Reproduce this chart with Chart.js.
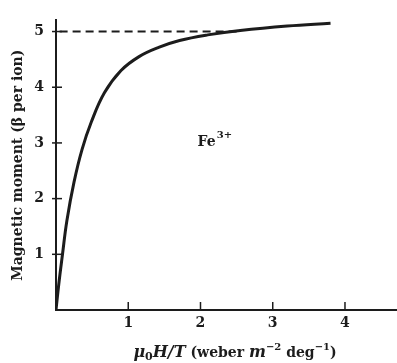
<!DOCTYPE html>
<html>
<head>
<meta charset="utf-8">
<script src="https://cdn.jsdelivr.net/npm/chart.js@4/dist/chart.umd.min.js"></script>
<style>
  html, body { margin: 0; padding: 0; background: #fff; }
  canvas { display: block; }
</style>
</head>
<body>
<canvas id="chart" width="397" height="363"></canvas>
<script>
// values
const fieldX = [0, 0.04, 0.09, 0.15, 0.25, 0.36, 0.49, 0.67, 0.9, 1.15, 1.43, 1.71, 2.1, 2.55, 3.2, 3.8]
const momentY = [0, 0.48, 1.0, 1.6, 2.3, 2.88, 3.38, 3.9, 4.3, 4.55, 4.72, 4.84, 4.94, 5.02, 5.1, 5.15]
const saturationX = [0.05, 2.5]
const saturationY = [5, 5]
const xTicks = [1, 2, 3, 4]
const yTicks = [1, 2, 3, 4, 5]
const ionLabel = { x: 1.96, y: 2.95, base: 'Fe', sup: '3+' }

const ink = '#1c1c1c'
const serif = '"DejaVu Serif", serif'

// small tick marks pointing into the plot
const innerTicks = {
  id: 'innerTicks',
  afterDraw(chart) {
    const { ctx, scales: { x, y } } = chart
    ctx.save()
    ctx.strokeStyle = ink
    ctx.lineWidth = 1.5
    const x0 = x.getPixelForValue(0)
    const y0 = y.getPixelForValue(0)
    yTicks.forEach(v => {
      const py = y.getPixelForValue(v)
      ctx.beginPath(); ctx.moveTo(x0 - 4, py); ctx.lineTo(x0 + 6, py); ctx.stroke()
    })
    xTicks.forEach(v => {
      const px = x.getPixelForValue(v)
      ctx.beginPath(); ctx.moveTo(px, y0); ctx.lineTo(px, y0 - 8); ctx.stroke()
    })

    // ion label
    ctx.fillStyle = ink
    ctx.textBaseline = 'alphabetic'
    const lx = x.getPixelForValue(ionLabel.x)
    const ly = y.getPixelForValue(ionLabel.y)
    ctx.font = 'bold 14px ' + serif
    ctx.fillText(ionLabel.base, lx, ly)
    const w = ctx.measureText(ionLabel.base).width
    ctx.font = 'bold 10px ' + serif
    ctx.fillText(ionLabel.sup, lx + w + 1, ly - 8)

    // x axis title with mixed styles
    const parts = [
      { t: 'μ', f: 'italic bold 16px', dy: 0 },
      { t: '0', f: 'bold 11px', dy: 3 },
      { t: 'H/T', f: 'italic bold 16px', dy: 0 },
      { t: ' (weber ', f: 'bold 14px', dy: 0 },
      { t: 'm', f: 'italic bold 16px', dy: 0 },
      { t: '−2', f: 'bold 10px', dy: -7 },
      { t: ' deg', f: 'bold 14px', dy: 0 },
      { t: '−1', f: 'bold 10px', dy: -7 },
      { t: ')', f: 'bold 14px', dy: 0 }
    ]
    let total = 0
    parts.forEach(p => { ctx.font = p.f + ' ' + serif; p.w = ctx.measureText(p.t).width; total += p.w })
    let cx = 235 - total / 2
    const base = 357
    parts.forEach(p => {
      ctx.font = p.f + ' ' + serif
      ctx.fillText(p.t, cx, base + p.dy)
      cx += p.w
    })
    ctx.restore()
  }
}

new Chart(document.getElementById('chart').getContext('2d'), {
  type: 'scatter',
  data: {
    datasets: [
      {
        data: fieldX.map((v, i) => ({ x: v, y: momentY[i] })),
        showLine: true,
        borderColor: ink,
        borderWidth: 3,
        pointRadius: 0,
        tension: 0.4,
        fill: false
      },
      {
        data: saturationX.map((v, i) => ({ x: v, y: saturationY[i] })),
        showLine: true,
        borderColor: ink,
        borderWidth: 2,
        borderDash: [8, 5],
        pointRadius: 0,
        fill: false
      }
    ]
  },
  options: {
    responsive: false,
    animation: false,
    layout: { padding: { top: 20, right: 0, left: 0, bottom: 0 } },
    plugins: {
      legend: { display: false },
      tooltip: { enabled: false }
    },
    scales: {
      x: {
        type: 'linear',
        min: 0,
        max: 4.72,
        afterFit(scale) { scale.height = 53 },
        afterBuildTicks(scale) { scale.ticks = xTicks.map(v => ({ value: v })) },
        grid: { display: false, drawTicks: false },
        border: { display: true, color: ink, width: 2 },
        ticks: {
          padding: 5,
          color: ink,
          font: { family: serif, size: 14, weight: 'bold' }
        }
      },
      y: {
        type: 'linear',
        min: 0,
        max: 5.2,
        afterFit(scale) { scale.width = 56 },
        afterBuildTicks(scale) { scale.ticks = yTicks.map(v => ({ value: v })) },
        grid: { display: false, drawTicks: false },
        border: { display: true, color: ink, width: 2 },
        ticks: {
          padding: 12,
          color: ink,
          font: { family: serif, size: 14, weight: 'bold' }
        },
        title: {
          display: true,
          text: 'Magnetic moment (β per ion)',
          color: ink,
          padding: { top: 10, bottom: 0 },
          font: { family: serif, size: 14, weight: 'bold' }
        }
      }
    }
  },
  plugins: [innerTicks]
})
</script>
</body>
</html>
